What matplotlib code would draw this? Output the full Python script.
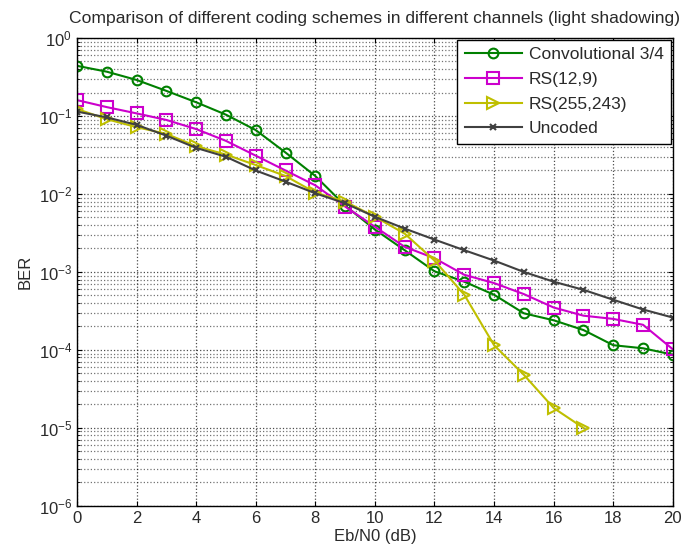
import numpy as np
import matplotlib
matplotlib.use("Agg")
import matplotlib.pyplot as plt

# Eb/N0 axis (dB)
ebn0 = list(range(0, 21))
ebn0_rs255 = list(range(0, 18))

# BER values
ber_conv = [0.44, 0.37, 0.29, 0.21, 0.15, 0.104, 0.066, 0.034, 0.017, 0.0071,
            0.0035, 0.0019, 0.00102, 7.5e-4, 5.1e-4, 2.95e-4, 2.4e-4, 1.8e-4,
            1.15e-4, 1.05e-4, 8.7e-5]
ber_rs129 = [0.16, 0.13, 0.108, 0.089, 0.068, 0.048, 0.031, 0.020, 0.0129, 0.0069,
             0.0038, 0.0021, 0.0015, 9.2e-4, 7.2e-4, 5.2e-4, 3.5e-4, 2.75e-4,
             2.5e-4, 2.1e-4, 1.02e-4]
ber_rs255 = [0.123, 0.091, 0.072, 0.059, 0.041, 0.032, 0.0235, 0.017, 0.0104, 0.0080,
             0.0051, 0.0031, 0.0014, 5.1e-4, 1.15e-4, 4.8e-5, 1.8e-5, 1.0e-5]
ber_uncoded = [0.114, 0.096, 0.077, 0.056, 0.039, 0.030, 0.020, 0.0144, 0.0102, 0.0076,
               0.0051, 0.0036, 0.0026, 0.0019, 0.0014, 0.0010, 7.5e-4, 5.9e-4,
               4.4e-4, 3.3e-4, 2.6e-4]
yticks = [1e-6, 1e-5, 1e-4, 1e-3, 1e-2, 1e-1, 1e0]

plt.rcParams['font.family'] = ['Liberation Sans', 'DejaVu Sans']
plt.rcParams['mathtext.default'] = 'regular'
txt_col = '#2a2a2a'

fig = plt.figure(figsize=(6.81, 5.59), dpi=100)
ax = fig.add_axes([0.113, 0.095, 0.875, 0.837])

ax.semilogy(ebn0, ber_conv, '-o', color=(0, 0.5, 0), lw=1.5, ms=7,
            mfc='none', mew=1.5, label='Convolutional 3/4')
ax.semilogy(ebn0, ber_rs129, '-s', color=(0.8, 0, 0.8), lw=1.5, ms=8,
            mfc='none', mew=1.5, label='RS(12,9)')
ax.semilogy(ebn0_rs255, ber_rs255, '->', color=(0.75, 0.75, 0), lw=1.5, ms=8,
            mfc='none', mew=1.5, label='RS(255,243)')
ax.semilogy(ebn0, ber_uncoded, '-x', color=(0.25, 0.25, 0.25), lw=1.5, ms=5,
            mew=1.5, label='Uncoded')

ax.set_xlim(0, 20)
ax.set_ylim(1e-6, 1)
ax.set_xticks(range(0, 21, 2))
ax.set_yticks(yticks)
ax.grid(True, which='major', ls=':', color='k', lw=0.9, alpha=0.7)
ax.grid(True, which='minor', ls=':', color='k', lw=0.9, alpha=0.55)
ax.tick_params(which='both', direction='in', top=True, right=True,
               labelsize=12, labelcolor=txt_col)

for s in ax.spines.values():
    s.set_linewidth(1.0)

ax.set_title('Comparison of different coding schemes in different channels (light shadowing)',
             fontsize=12.6, pad=11, color=txt_col)
ax.set_xlabel('Eb/N0 (dB)', fontsize=12, labelpad=2, color=txt_col)
ax.set_ylabel('BER', fontsize=12, labelpad=4, color=txt_col)

leg = ax.legend(loc='upper right', fontsize=12.5, fancybox=False, framealpha=1,
                edgecolor='k', borderaxespad=0.1, handlelength=3.3,
                handletextpad=0.4, labelspacing=0.55, borderpad=0.42)
leg.get_frame().set_linewidth(1.0)
for t in leg.get_texts():
    t.set_color(txt_col)

fig.savefig('out.png', dpi=100)
